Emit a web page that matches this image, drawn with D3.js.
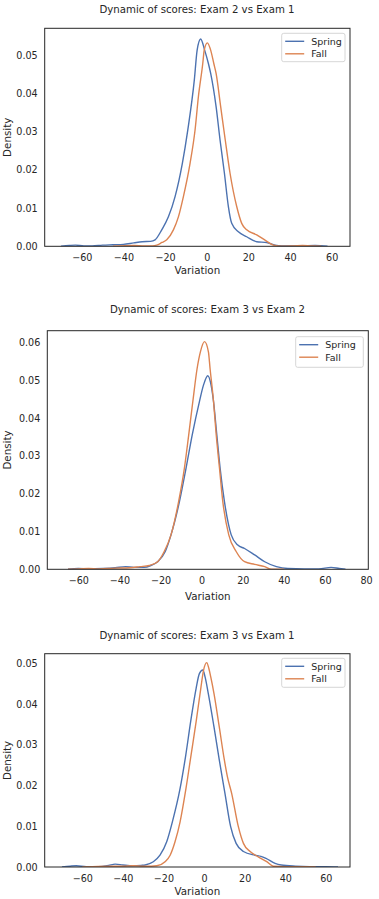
<!DOCTYPE html>
<html><head><meta charset="utf-8">
<script src="https://d3js.org/d3.v7.min.js"></script>
<style>
html,body{margin:0;padding:0;background:#fff;}
svg text{font-family:"DejaVu Sans",sans-serif;fill:#262626;}
</style></head>
<body>
<svg id="c" width="379" height="899"></svg>
<script>
// ---- data (x = Variation, y = Density) ----
const seriesNames = ["Spring", "Fall"];
const titles = ["Dynamic of scores: Exam 2 vs Exam 1", "Dynamic of scores: Exam 3 vs Exam 2", "Dynamic of scores: Exam 3 vs Exam 1"];
const xTicks1 = [-60, -40, -20, 0, 20, 40, 60];
const xTicks2 = [-60, -40, -20, 0, 20, 40, 60, 80];
const xTicks3 = [-60, -40, -20, 0, 20, 40, 60];
const yTicks1 = [0, 0.01, 0.02, 0.03, 0.04, 0.05];
const yTicks2 = [0, 0.01, 0.02, 0.03, 0.04, 0.05, 0.06];
const yTicks3 = [0, 0.01, 0.02, 0.03, 0.04, 0.05];

const spring1 = [[-70,0],[-66,0.0002],[-63,0.0003],[-59,0.0001],[-55,0.0001],[-50,0.0003],[-45,0.0004],[-40,0.0005],[-35,0.0009],[-31,0.0012],[-27,0.0013],[-24.8,0.0017],[-21.6,0.0043],[-18.4,0.0077],[-15.2,0.0130],[-11.7,0.0217],[-9.1,0.0304],[-5.95,0.0435],[-4.6,0.0513],[-2.9,0.0542],[-1.0,0.0513],[0.8,0.0478],[1.9,0.0452],[4.5,0.0365],[6.4,0.0278],[8.5,0.0191],[10.4,0.0104],[12.0,0.0060],[15.2,0.0038],[19.2,0.0025],[24,0.0012],[28.8,0.0010],[32.8,0.0003],[36,0.0001],[45,0.0001],[52,0.0002],[58,0]];
const fall1 = [[-45,0],[-35,0.0002],[-30,0.0001],[-26,0.0001],[-24,0.0003],[-21.5,0.0010],[-19.2,0.0017],[-16,0.0043],[-13.6,0.0077],[-11.2,0.0130],[-8,0.0217],[-5.6,0.0304],[-4,0.0391],[-1.9,0.0478],[-1.2,0.0513],[0.3,0.0532],[1.9,0.0513],[3.4,0.0478],[4.5,0.0452],[6.7,0.0365],[8.9,0.0278],[11.2,0.0191],[14.4,0.0104],[16.8,0.0060],[19.2,0.0043],[24,0.0030],[28,0.0016],[32,0.0003],[36,0],[42,0.0001],[46,0.0002],[50,0.0001],[55,0]];
const spring2 = [[-65,0],[-60,0.0002],[-55,0.0001],[-48,0.0002],[-42,0.0004],[-37,0.0007],[-33,0.0005],[-28,0.0005],[-24.7,0.0010],[-21.4,0.0020],[-17.7,0.0047],[-14.9,0.0091],[-10.8,0.0179],[-7.6,0.0267],[-4.6,0.0355],[-1.1,0.0443],[0.9,0.0487],[3.0,0.0512],[4.6,0.0487],[5.8,0.0443],[7.4,0.0355],[9.0,0.0267],[11.1,0.0179],[14.4,0.0091],[17.6,0.0064],[20.9,0.0055],[25.8,0.0038],[30.7,0.0020],[36.4,0.0007],[42,0.0002],[50,0.0001],[57,0.0001],[63,0.0005],[67,0.0002],[70,0]];
const fall2 = [[-65,0],[-60,0.0001],[-55,0.0002],[-50,0.0001],[-42,0.0003],[-35,0.0004],[-30,0.0007],[-25.5,0.0010],[-21.4,0.0020],[-18.2,0.0047],[-14.9,0.0091],[-11.2,0.0179],[-8.4,0.0267],[-6.3,0.0355],[-4.3,0.0443],[-2.2,0.0531],[-0.6,0.0575],[1.4,0.0602],[3.3,0.0575],[4.1,0.0531],[5.8,0.0443],[7.1,0.0355],[8.7,0.0267],[10.3,0.0179],[13.2,0.0091],[16.8,0.0047],[20.9,0.0020],[25.8,0.0013],[30.7,0.0007],[34,0],[40,0]];
const spring3 = [[-70,0],[-66,0.0002],[-63,0.0003],[-58,0.0001],[-52,0.0001],[-47,0.0004],[-43.8,0.0007],[-40,0.0005],[-35,0.0003],[-31,0.0004],[-29,0.0005],[-25,0.0013],[-21.7,0.0029],[-18.4,0.0062],[-15.6,0.0111],[-11.8,0.0193],[-9.0,0.0275],[-6.6,0.0357],[-3.9,0.0439],[-2.3,0.0475],[-0.6,0.0484],[0.5,0.0467],[2.1,0.0426],[4.9,0.0344],[7.5,0.0263],[10.3,0.0181],[13.1,0.0099],[15.8,0.0058],[19.4,0.0038],[25.1,0.0029],[28,0.0026],[30.5,0.0021],[35,0.0009],[38,0.0005],[45,0.0002],[52,0.0001],[60,0.0001],[66,0]];
const fall3 = [[-60,0],[-55,0.0001],[-45,0.0002],[-40,0.0002],[-35,0.0003],[-30,0.0002],[-26,0.0002],[-23.3,0.0003],[-19.2,0.0013],[-16.7,0.0029],[-14.3,0.0062],[-11.8,0.0111],[-8.9,0.0193],[-6.4,0.0275],[-3.9,0.0357],[-1.6,0.0439],[-0.3,0.0482],[1.3,0.0502],[2.4,0.0487],[3.3,0.0467],[4.9,0.0426],[7.5,0.0344],[10.0,0.0263],[11.5,0.0222],[13.6,0.0181],[16.9,0.0099],[19.4,0.0058],[22.7,0.0038],[26.7,0.0025],[30.9,0.0013],[34.1,0.0002],[40,0.0001],[50,0.0001],[55,0]];

const xDomains = [[-77.8, 68.8], [-75.1, 81.1], [-78.5, 71.9]];
const yDomains = [[0, 0.057], [0, 0.0631], [0, 0.0524]];

// ---- layout ----
const colors = ["#4c72b0", "#dd8452"];
const panels = [
  {title: titles[0], data: [spring1, fall1], xt: xTicks1, yt: yTicks1, xd: xDomains[0], yd: yDomains[0],
   L: 44.7, R: 350, T: 28.3, B: 246.3, titleY: 12.5, titleX: 197, labOff: 28, leg: {x: 281.7, y: 33.3, w: 63.3, h: 28.4}},
  {title: titles[1], data: [spring2, fall2], xt: xTicks2, yt: yTicks2, xd: xDomains[1], yd: yDomains[1],
   L: 47.3, R: 368.3, T: 330.7, B: 569.3, titleY: 312.5, titleX: 207.5, labOff: 30.5, leg: {x: 295.7, y: 336.7, w: 67.6, h: 30.6}},
  {title: titles[2], data: [spring3, fall3], xt: xTicks3, yt: yTicks3, xd: xDomains[2], yd: yDomains[2],
   L: 44.7, R: 350, T: 653.7, B: 867, titleY: 638.5, titleX: 197, labOff: 27.5, leg: {x: 281.7, y: 658.3, w: 63.3, h: 29}}
];

const svg = d3.select("#c");
const fmt = d3.format(".2f");

panels.forEach(p => {
  const x = d3.scaleLinear().domain(p.xd).range([p.L, p.R]);
  const y = d3.scaleLinear().domain(p.yd).range([p.B, p.T]);
  const g = svg.append("g");

  // title
  g.append("text").attr("x", p.titleX).attr("y", p.titleY).attr("text-anchor", "middle")
    .style("font-size", "10.2px").text(p.title);

  // clip
  const cid = "clip" + Math.round(p.T);
  svg.append("clipPath").attr("id", cid).append("rect")
    .attr("x", p.L).attr("y", p.T).attr("width", p.R - p.L).attr("height", p.B - p.T);

  // lines
  const line = d3.line().x(d => x(d[0])).y(d => y(d[1])).curve(d3.curveMonotoneX);
  p.data.forEach((s, i) => {
    g.append("path").datum(s).attr("d", line).attr("fill", "none")
      .attr("stroke", colors[i]).attr("stroke-width", 1.4)
      .attr("stroke-linejoin", "round").attr("clip-path", `url(#${cid})`);
  });

  // axes
  const xa = d3.axisBottom(x).tickValues(p.xt).tickSize(0).tickPadding(8)
    .tickFormat(d => d < 0 ? "\u2212" + Math.abs(d) : String(d));
  const xg = g.append("g").attr("transform", `translate(0,${p.B})`).call(xa);
  xg.select(".domain").remove();
  xg.selectAll("text").style("font-size", "9.6px").style("fill", "#262626")
    .style("font-family", '"DejaVu Sans",sans-serif');

  const ya = d3.axisLeft(y).tickValues(p.yt).tickSize(0).tickPadding(7).tickFormat(fmt);
  const yg = g.append("g").attr("transform", `translate(${p.L},0)`).call(ya);
  yg.select(".domain").remove();
  yg.selectAll("text").style("font-size", "9.6px").style("fill", "#262626")
    .style("font-family", '"DejaVu Sans",sans-serif');

  // frame
  g.append("rect").attr("x", p.L).attr("y", p.T).attr("width", p.R - p.L).attr("height", p.B - p.T)
    .attr("fill", "none").attr("stroke", "#262626").attr("stroke-width", 1);

  // axis labels
  g.append("text").attr("x", (p.L + p.R) / 2).attr("y", p.B + p.labOff).attr("text-anchor", "middle")
    .style("font-size", "10.3px").text("Variation");
  g.append("text").attr("transform", `translate(11,${(p.T + p.B) / 2}) rotate(-90)`)
    .attr("text-anchor", "middle").style("font-size", "10.3px").text("Density");

  // legend
  const lg = g.append("g");
  lg.append("rect").attr("x", p.leg.x).attr("y", p.leg.y).attr("width", p.leg.w).attr("height", p.leg.h)
    .attr("rx", 2).attr("fill", "#fff").attr("fill-opacity", 0.8).attr("stroke", "#cccccc").attr("stroke-width", 0.8);
  seriesNames.forEach((n, i) => {
    const ly = p.leg.y + 8 + i * 12.5;
    lg.append("line").attr("x1", p.leg.x + 3.5).attr("x2", p.leg.x + 22.5).attr("y1", ly).attr("y2", ly)
      .attr("stroke", colors[i]).attr("stroke-width", 1.4);
    lg.append("text").attr("x", p.leg.x + 29.5).attr("y", ly).attr("dy", "0.35em")
      .style("font-size", "9.5px").text(n);
  });
});
</script>
</body></html>
